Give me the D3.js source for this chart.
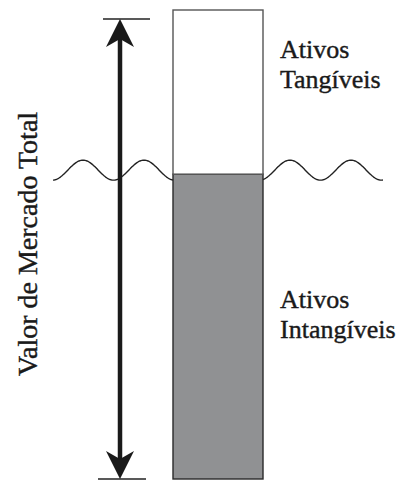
<!DOCTYPE html>
<html><head><meta charset="utf-8">
<script src="https://cdn.jsdelivr.net/npm/d3@7"></script>
<style>body{margin:0;background:#fff}svg{display:block}</style>
</head><body>
<svg id="c" width="408" height="480"></svg>
<script>
const categories = ["Ativos Intangíveis", "Ativos Tangíveis"];
const values = [65, 35];
const labels = [["Ativos", "Intangíveis"], ["Ativos", "Tangíveis"]];
const axisLabel = "Valor de Mercado Total";
const FONT = "'Liberation Serif'";

const svg = d3.select("#c");
const total = d3.sum(values);
const y = d3.scaleLinear().domain([0, total]).range([479, 10]);
const x = d3.scaleBand().domain(["bar"]).range([173, 263]).padding(0);

let acc = 0;
const stack = values.map((v, i) => { const s = {cat: categories[i], y0: acc, y1: acc + v, i}; acc += v; return s; });

// bars
svg.selectAll("rect.seg").data(stack).join("rect")
  .attr("class", "seg")
  .attr("x", x("bar")).attr("width", x.bandwidth())
  .attr("y", d => y(d.y1)).attr("height", d => y(d.y0) - y(d.y1))
  .attr("fill", d => d.i === 0 ? "#909193" : "#ffffff")
  .attr("stroke", d => d.i === 0 ? "#2a2a2a" : "#555")
  .attr("stroke-width", 1.4);

// wave lines at boundary
const by = y(values[0]);
function wave(x0, x1, phase) {
  const pts = d3.range(x0, x1 + 0.5, 1).map(px => [px, by - 4 - 10 * Math.cos((px - phase) * 2 * Math.PI / 61)]);
  return d3.line()(pts);
}
svg.append("path").attr("d", wave(53, 173, 83)).attr("fill", "none").attr("stroke", "#222").attr("stroke-width", 1.4);
svg.append("path").attr("d", wave(263, 383, 290)).attr("fill", "none").attr("stroke", "#222").attr("stroke-width", 1.4);

// arrow
const ax = 120, aTop = y(total) + 9, aBot = y(0);
svg.append("line").attr("x1", 103).attr("x2", 150).attr("y1", aTop).attr("y2", aTop).attr("stroke", "#222").attr("stroke-width", 1.3);
svg.append("line").attr("x1", 98).attr("x2", 146).attr("y1", aBot).attr("y2", aBot).attr("stroke", "#222").attr("stroke-width", 1.3);
svg.append("line").attr("x1", ax).attr("x2", ax).attr("y1", aTop + 20).attr("y2", aBot - 20).attr("stroke", "#1a1a1a").attr("stroke-width", 4.5);
svg.append("path").attr("d", `M${ax},${aTop} L${ax-14},${aTop+28} L${ax},${aTop+20} L${ax+14},${aTop+28} Z`).attr("fill", "#1a1a1a");
svg.append("path").attr("d", `M${ax},${aBot} L${ax-14},${aBot-28} L${ax},${aBot-20} L${ax+14},${aBot-28} Z`).attr("fill", "#1a1a1a");

// axis label
svg.append("text").attr("transform", `translate(37,244) rotate(-90)`)
  .attr("text-anchor", "middle").style("font-family", FONT)
  .attr("font-size", 28).attr("fill", "#1a1a1a")
  .attr("stroke", "#1a1a1a").attr("stroke-width", 0.4).text(axisLabel);

// segment labels
const labY = [y(values[0]) + 134, y(total) + 48];
stack.forEach((d, i) => {
  const t = svg.append("text").attr("x", 280).attr("y", labY[i]).style("font-family", FONT)
    .attr("font-size", 26).attr("fill", "#1a1a1a")
    .attr("stroke", "#1a1a1a").attr("stroke-width", 0.4);
  labels[i].forEach((l, j) => t.append("tspan").attr("x", 280).attr("dy", j ? 30 : 0).text(l));
});
</script>
</body></html>
